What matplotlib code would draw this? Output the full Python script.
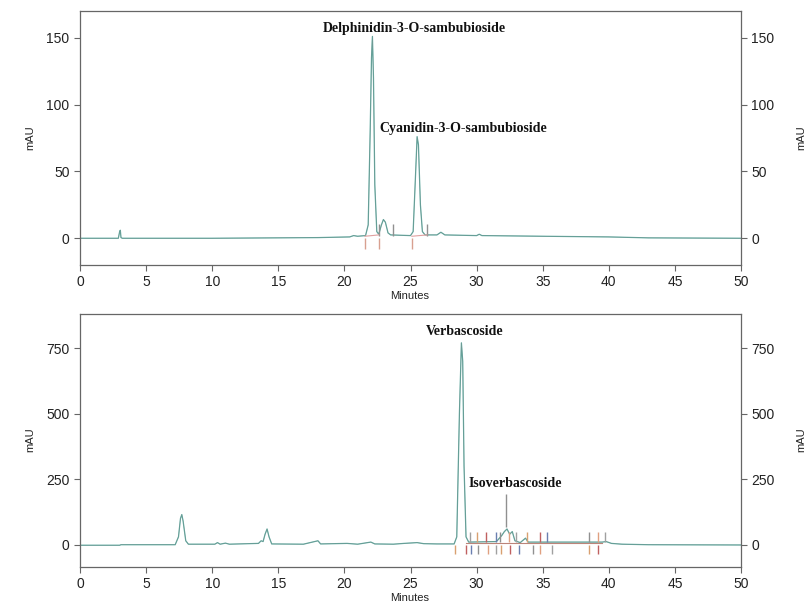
import matplotlib
matplotlib.use("Agg")
import matplotlib.pyplot as plt

# ---------------- data ----------------
# Top chromatogram (anthocyanins)
top_time = [0, 2.9, 3.0, 3.05, 3.1, 3.2, 10, 18, 20.4, 20.7, 21.0, 21.6, 21.8, 21.95,
            22.05, 22.12, 22.2, 22.3, 22.45, 22.6, 22.8, 22.95, 23.1, 23.3, 23.5,
            25.0, 25.2, 25.35, 25.5, 25.6, 25.75, 25.9, 26.1, 27.0, 27.3, 27.6,
            30.0, 30.2, 30.4, 35, 40, 43, 50]
top_mau = [0, 0, 5, 6, 0.5, 0, 0, 0.5, 1, 2, 1.5, 2, 10, 80,
           135, 151, 120, 40, 5, 3, 10, 14, 12, 4, 2.5,
           2, 5, 40, 76, 70, 25, 5, 2.5, 2.5, 4.5, 2.5,
           2, 3, 2, 1.5, 1, 0.3, 0]
top_up_marks = [22.6, 23.68, 26.25]
top_down_marks = [21.55, 22.6, 25.1]

# Bottom chromatogram (phenylethanoids)
bot_time = [0, 3.0, 3.1, 7.2, 7.45, 7.6, 7.7, 7.8, 8.0, 8.2, 10.2, 10.4, 10.6, 11.0, 11.3,
            12.0, 13.5, 13.7, 13.85, 14.0, 14.15, 14.3, 14.5, 16.9, 18.0, 18.2, 20.2,
            21.0, 22.0, 22.3, 23.7, 24.5, 25.5, 26.0, 27.0, 28.3, 28.5, 28.7, 28.85,
            28.95, 29.05, 29.2, 29.4, 31.5, 31.9, 32.1, 32.3, 32.5, 32.7, 32.9, 33.3,
            33.7, 33.9, 35, 38, 39.5, 39.8, 40.2, 41, 43, 50]
bot_mau = [-2, -2, 0, 0, 30, 100, 115, 90, 15, 2, 2, 8, 2, 6, 2,
           3, 5, 15, 12, 40, 60, 30, 3, 2, 15, 3, 5,
           2, 10, 3, 2, 5, 8, 4, 3, 3, 30, 500, 770,
           700, 300, 30, 10, 12, 35, 50, 60, 40, 50, 15, 8,
           25, 10, 10, 10, 10, 12, 5, 2, 0, -1]
bot_up_marks = [29.5, 30.0, 30.7, 31.47, 31.8, 32.47, 32.98, 33.81, 34.82, 35.32,
                38.48, 39.18, 39.68]
bot_down_marks = [28.37, 29.18, 29.55, 30.08, 30.89, 31.44, 31.84, 32.53, 33.21,
                  34.24, 34.80, 35.68, 38.48, 39.21]

top_labels = ["Delphinidin-3-O-sambubioside", "Cyanidin-3-O-sambubioside"]
bot_labels = ["Verbascoside", "Isoverbascoside"]
isoverb_time = 32.23

x_ticks = [0, 5, 10, 15, 20, 25, 30, 35, 40, 45, 50]
top_yticks = [0, 50, 100, 150]
bot_yticks = [0, 250, 500, 750]

# ---------------- figure ----------------
fig = plt.figure(figsize=(8.08, 6.04), dpi=100)
ax1 = fig.add_axes([80/808, 1-265/604, (741-80)/808, (265-11)/604])
ax2 = fig.add_axes([80/808, 1-567/604, (741-80)/808, (567-314)/604])

trace_col = "#5aa89e"
mark_cols = ["#a0a0a0", "#d9a070", "#c06060", "#6a7fb0", "#909090", "#e0a080"]

def style(ax, ylim, yticks):
    ax.set_xlim(0, 50)
    ax.set_ylim(*ylim)
    ax.set_xticks(x_ticks)
    ax.set_yticks(yticks)
    for s in ax.spines.values():
        s.set_color("#666666")
        s.set_linewidth(0.9)
    ax.tick_params(axis="both", which="both", direction="out", length=4,
                   color="#666666", labelsize=10, labelcolor="#222222",
                   left=True, right=True, labelleft=True, labelright=True,
                   top=False, bottom=True)
    for lab in ax.get_xticklabels() + ax.get_yticklabels():
        lab.set_family("Liberation Sans")

# top panel
ax1.plot(top_time, top_mau, color=trace_col, lw=0.9)
ax1.plot(top_time, top_mau, color="#888888", lw=0.4, alpha=0.5)
ax1.vlines(top_up_marks, 2, 11, color="#909090", lw=1.0)
ax1.vlines(top_down_marks, -8, 0.5, color="#d8a090", lw=1.0)
ax1.plot([21.55, 22.6], [1.5, 2.5], color="#e0a0a0", lw=0.8)
ax1.plot([25.1, 26.25], [1.5, 2.5], color="#e0a0a0", lw=0.8)
style(ax1, (-20, 170), top_yticks)
ax1.text(25.3, 157, top_labels[0], ha="center", va="center", fontsize=10,
         fontweight="bold", family="Liberation Serif", color="#111111")
ax1.text(29.0, 82, top_labels[1], ha="center", va="center", fontsize=10,
         fontweight="bold", family="Liberation Serif", color="#111111")

# bottom panel
ax2.plot(bot_time, bot_mau, color=trace_col, lw=0.9)
ax2.plot(bot_time, bot_mau, color="#888888", lw=0.4, alpha=0.5)
ax2.plot([29.2, 39.5], [8, 8], color="#a05040", lw=0.8, alpha=0.7)
for i, t in enumerate(bot_up_marks):
    ax2.vlines(t, 10, 50, color=mark_cols[i % len(mark_cols)], lw=1.0)
for i, t in enumerate(bot_down_marks):
    ax2.vlines(t, -35, 0, color=mark_cols[(i + 1) % len(mark_cols)], lw=1.0)
ax2.vlines(isoverb_time, 68, 195, color="#909090", lw=1.0)
style(ax2, (-85, 880), bot_yticks)
ax2.text(29.1, 813, bot_labels[0], ha="center", va="center", fontsize=10,
         fontweight="bold", family="Liberation Serif", color="#111111")
ax2.text(32.9, 232, bot_labels[1], ha="center", va="center", fontsize=10,
         fontweight="bold", family="Liberation Serif", color="#111111")

# axis labels
for yc in (1-138/604, 1-440/604):
    fig.text(30/808, yc, "mAU", rotation=90, ha="center", va="center",
             fontsize=8, family="Liberation Sans", color="#222222")
    fig.text(801/808, yc, "mAU", rotation=90, ha="center", va="center",
             fontsize=8, family="Liberation Sans", color="#222222")
for yc in (1-296/604, 1-598/604):
    fig.text(410/808, yc, "Minutes", ha="center", va="center",
             fontsize=8, family="Liberation Sans", color="#222222")

fig.savefig("out.png", dpi=100, facecolor="white")
